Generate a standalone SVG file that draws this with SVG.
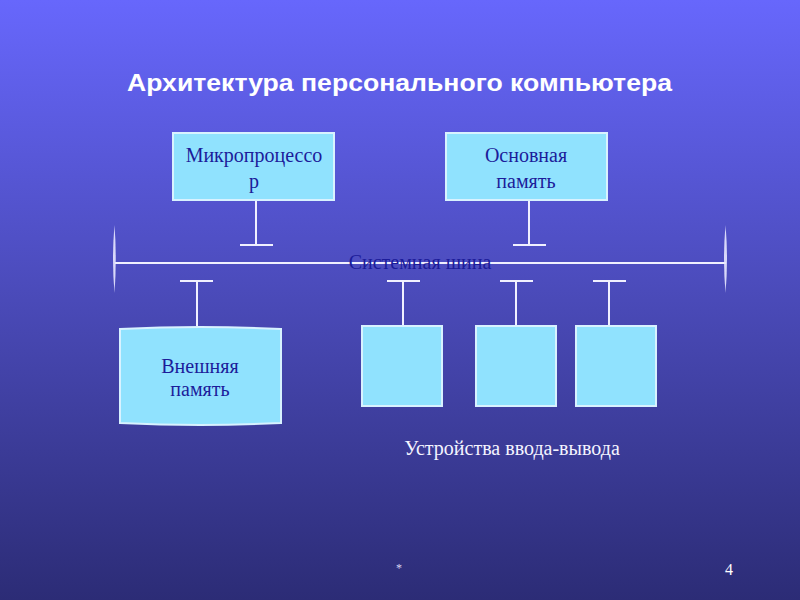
<svg xmlns="http://www.w3.org/2000/svg" width="800" height="600" viewBox="0 0 800 600">
<defs>
<linearGradient id="bg" x1="0" y1="0" x2="0" y2="1">
<stop offset="0" stop-color="#6767fc"/>
<stop offset="0.5" stop-color="#4a4ab8"/>
<stop offset="1" stop-color="#2c2c76"/>
</linearGradient>
<style>
.box{fill:#90e2fe;stroke:#d8f2ff;stroke-width:2}
.ln{stroke:#f0f0ff;stroke-width:2;fill:none}
.lbl{font-family:"Liberation Serif","Times New Roman",serif;font-size:20px;fill:#1c1c9a;text-anchor:middle}
.end{fill:#e8e8ff;opacity:0.9}
</style>
</defs>
<rect width="800" height="600" fill="url(#bg)"/>
<text x="127" y="91" textLength="545" lengthAdjust="spacingAndGlyphs" font-family="Liberation Sans, Arial, sans-serif" font-weight="bold" font-size="24" fill="#ffffff">Архитектура персонального компьютера</text>

<g id="connectors">
<line class="ln" x1="115" y1="263" x2="726" y2="263"/>
<path class="end" d="M114.5 225 Q111.5 259 114.5 293 Q117 259 114.5 225 Z"/>
<path class="end" d="M725.5 225 Q722.5 259 725.5 293 Q728.5 259 725.5 225 Z"/>
<line class="ln" x1="256" y1="201" x2="256" y2="245"/>
<line class="ln" x1="240" y1="245" x2="273" y2="245"/>
<line class="ln" x1="240" y1="200" x2="273" y2="200"/>
<line class="ln" x1="529" y1="201" x2="529" y2="245"/>
<line class="ln" x1="513" y1="245" x2="546" y2="245"/>
<line class="ln" x1="513" y1="200" x2="546" y2="200"/>
<line class="ln" x1="197" y1="281" x2="197" y2="326"/>
<line class="ln" x1="180" y1="281" x2="213" y2="281"/>
<line class="ln" x1="403" y1="281" x2="403" y2="326"/>
<line class="ln" x1="387" y1="281" x2="420" y2="281"/>
<line class="ln" x1="516" y1="281" x2="516" y2="326"/>
<line class="ln" x1="500" y1="281" x2="533" y2="281"/>
<line class="ln" x1="609" y1="281" x2="609" y2="326"/>
<line class="ln" x1="593" y1="281" x2="626" y2="281"/>
</g>

<g id="bus-label">
<text class="lbl" x="420" y="269">Системная шина</text>
</g>

<g id="cpu">
<rect class="box" x="173" y="133" width="161" height="67"/>
<text class="lbl" x="254" y="162">Микропроцессо</text>
<text class="lbl" x="254" y="188">р</text>
</g>

<g id="ram">
<rect class="box" x="446" y="133" width="161" height="67"/>
<text class="lbl" x="526" y="162">Основная</text>
<text class="lbl" x="526" y="188">память</text>
</g>

<g id="ext-mem">
<path class="box" d="M120 329 Q200 325 281 329 L281 423 Q200 427 120 423 Z"/>
<text class="lbl" x="200" y="373">Внешняя</text>
<text class="lbl" x="200" y="396">память</text>
</g>

<g id="io1"><rect class="box" x="362" y="326" width="80" height="80"/></g>
<g id="io2"><rect class="box" x="476" y="326" width="80" height="80"/></g>
<g id="io3"><rect class="box" x="576" y="326" width="80" height="80"/></g>

<g id="io-label">
<text x="512" y="455" text-anchor="middle" font-family="Liberation Serif, Times New Roman, serif" font-size="20" fill="#f4f4ff">Устройства ввода-вывода</text>
</g>

<text x="399" y="572" text-anchor="middle" font-family="Liberation Serif, serif" font-size="12" fill="#d8d8f0">*</text>
<text x="729" y="575" text-anchor="middle" font-family="Liberation Serif, serif" font-size="16" fill="#ffffff">4</text>
</svg>
